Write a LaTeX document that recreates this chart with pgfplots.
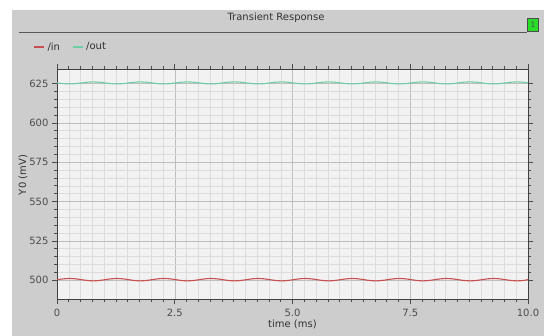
\documentclass[border=0pt]{standalone}
\usepackage{pgfplots}
\pgfplotsset{compat=1.18}
\usepackage{pgfplotstable}
\usepackage{fontspec}
\setmainfont{DejaVu Sans}
\definecolor{panelgray}{RGB}{205,205,205}
\definecolor{plotbg}{RGB}{242,242,242}
\definecolor{gridmajor}{RGB}{190,190,190}
\definecolor{gridminor}{RGB}{220,220,220}
\definecolor{textgray}{RGB}{50,50,50}
\definecolor{inred}{RGB}{200,80,80}
\definecolor{outgreen}{RGB}{110,205,165}
\definecolor{boxgreen}{RGB}{40,220,40}
\pgfplotstableread{
t in out
0.000 500.30 625.35
0.145 500.83 624.89
0.270 501.05 624.70
0.395 500.83 624.89
0.520 500.30 625.35
0.645 499.77 625.81
0.770 499.55 626.00
0.895 499.77 625.81
1.020 500.30 625.35
1.145 500.83 624.89
1.270 501.05 624.70
1.395 500.83 624.89
1.520 500.30 625.35
1.645 499.77 625.81
1.770 499.55 626.00
1.895 499.77 625.81
2.020 500.30 625.35
2.145 500.83 624.89
2.270 501.05 624.70
2.395 500.83 624.89
2.520 500.30 625.35
2.645 499.77 625.81
2.770 499.55 626.00
2.895 499.77 625.81
3.020 500.30 625.35
3.145 500.83 624.89
3.270 501.05 624.70
3.395 500.83 624.89
3.520 500.30 625.35
3.645 499.77 625.81
3.770 499.55 626.00
3.895 499.77 625.81
4.020 500.30 625.35
4.145 500.83 624.89
4.270 501.05 624.70
4.395 500.83 624.89
4.520 500.30 625.35
4.645 499.77 625.81
4.770 499.55 626.00
4.895 499.77 625.81
5.020 500.30 625.35
5.145 500.83 624.89
5.270 501.05 624.70
5.395 500.83 624.89
5.520 500.30 625.35
5.645 499.77 625.81
5.770 499.55 626.00
5.895 499.77 625.81
6.020 500.30 625.35
6.145 500.83 624.89
6.270 501.05 624.70
6.395 500.83 624.89
6.520 500.30 625.35
6.645 499.77 625.81
6.770 499.55 626.00
6.895 499.77 625.81
7.020 500.30 625.35
7.145 500.83 624.89
7.270 501.05 624.70
7.395 500.83 624.89
7.520 500.30 625.35
7.645 499.77 625.81
7.770 499.55 626.00
7.895 499.77 625.81
8.020 500.30 625.35
8.145 500.83 624.89
8.270 501.05 624.70
8.395 500.83 624.89
8.520 500.30 625.35
8.645 499.77 625.81
8.770 499.55 626.00
8.895 499.77 625.81
9.020 500.30 625.35
9.145 500.83 624.89
9.270 501.05 624.70
9.395 500.83 624.89
9.520 500.30 625.35
9.645 499.77 625.81
9.770 499.55 626.00
9.895 499.77 625.81
10.000 500.30 625.35
}\sigdata
\begin{document}
\begin{tikzpicture}
\useasboundingbox (0pt,0pt) rectangle (544pt,336pt);
\fill[white] (0pt,0pt) rectangle (544pt,336pt);
\fill[panelgray] (12pt,0pt) rectangle (544pt,326pt);
\node[font=\fontsize{10}{11}\selectfont, text=textgray] at (276pt,318pt) {Transient Response};
\draw[black!65, line width=0.8pt] (19pt,304pt) -- (527pt,304pt);
\node[draw=black!70, fill=boxgreen, line width=0.5pt, minimum width=11pt, minimum height=13pt, inner sep=0pt, font=\fontsize{7.5}{8}\selectfont, text=black!70] at (533pt,311.5pt) {1};
\begin{axis}[
  at={(57pt,36.5pt)}, anchor=south west,
  scale only axis, width=471pt, height=230.5pt,
  xmin=0, xmax=10, ymin=487.7, ymax=634.2,
  axis background/.style={fill=plotbg},
  xtick={0,2.5,5,7.5,10}, xticklabels={0,2.5,5.0,7.5,10.0},
  ytick={500,525,550,575,600,625},
  minor x tick num=9, minor y tick num=4,
  grid=both,
  major grid style={gridmajor, line width=0.5pt},
  minor grid style={gridminor, line width=0.4pt},
  tick align=outside, major tick length=5pt, minor tick length=3pt,
  tick style={black!70, line width=0.6pt},
  axis line style={black!75, line width=0.8pt},
  /pgf/number format/assume math mode=true,
  ticklabel style={font=\fontsize{10}{11}\selectfont, text=black!70},
  xticklabel style={yshift=-1pt},
  xlabel={time (ms)}, ylabel={Y0 (mV)},
  label style={font=\fontsize{10}{11}\selectfont, text=textgray},
  xlabel style={at={(axis description cs:0.5,-0.11)}, anchor=center},
  ylabel style={at={(axis description cs:-0.072,0.54)}, anchor=center},
  legend columns=2,
  legend style={draw=none, fill=none, at={(axis description cs:-0.057,1.095)}, anchor=west,
    font=\fontsize{10}{11}\selectfont, text=textgray,
    /tikz/every even column/.append style={column sep=10pt}},
  legend image code/.code={\draw[#1, line width=2.2pt] (0pt,0pt) -- (10pt,0pt);},
]
\addplot[inred, line width=1.1pt, smooth] table[x=t, y=in] {\sigdata};
\addlegendentry{/in}
\addplot[outgreen, line width=1.1pt, smooth] table[x=t, y=out] {\sigdata};
\addlegendentry{/out}
\end{axis}
\end{tikzpicture}
\end{document}
